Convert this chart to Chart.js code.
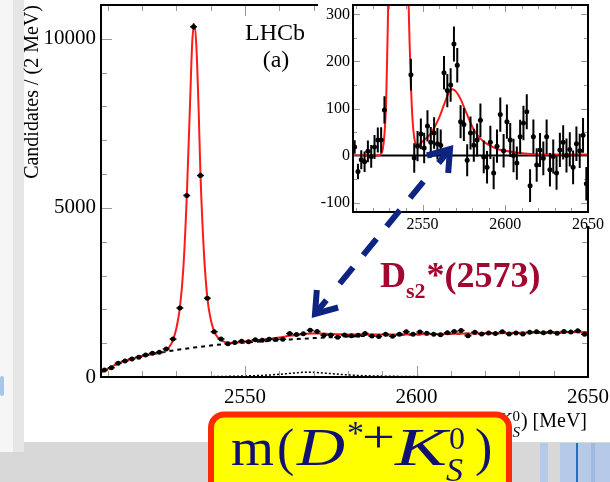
<!DOCTYPE html>
<html>
<head>
<meta charset="utf-8">
<script src="https://cdn.jsdelivr.net/npm/chart.js@4.4.1/dist/chart.umd.min.js"></script>
<style>
  body { margin: 0; width: 610px; height: 482px; overflow: hidden; position: relative; background: #d8d8d8; }
  #strip1 { position: absolute; left: 0; top: 0; width: 13px; height: 452px; background: #f6f6f6; }
  #strip2 { position: absolute; left: 13px; top: 0; width: 11px; height: 452px; background: #e6e6e6; }
  #blob { position: absolute; left: 0; top: 376px; width: 4px; height: 20px; background: #a9c6ea; border-radius: 2px; }
  #panel { position: absolute; left: 24px; top: 0; width: 586px; height: 442px; background: #fff; }
  .bar { position: absolute; top: 443px; height: 39px; }
  #main { position: absolute; left: 0; top: 0; }
  #insetBg { position: absolute; left: 318px; top: 0; width: 292px; height: 226px; background: #fff; }
  #inset { position: absolute; left: 318px; top: 0; }
  #notes { position: absolute; left: 0; top: 0; }
</style>
</head>
<body>
<div id="strip1"></div><div id="strip2"></div><div id="blob"></div>
<div id="panel"></div>
<div class="bar" style="left:540px;width:8px;background:#b6c9e8"></div>
<div class="bar" style="left:560px;width:16px;background:#b6c9e8"></div>
<div class="bar" style="left:576px;width:2px;background:#1d6fc8"></div>
<div class="bar" style="left:578px;width:13px;background:#b6c9e8"></div>
<div class="bar" style="left:591px;width:4px;background:#9fb9e0"></div>
<div class="bar" style="left:595px;width:15px;background:#b6c9e8"></div>
<canvas id="main" width="610" height="482"></canvas>
<div id="insetBg"></div>
<canvas id="inset" width="292" height="232"></canvas>

<svg id="notes" width="610" height="482">
  <g stroke="#0d2580" stroke-width="6" fill="none">
    <line x1="423.4" y1="181.6" x2="339" y2="284.6" stroke-dasharray="21 16"/>
    <line x1="450" y1="149" x2="438.6" y2="163"/>
    <polyline points="426.9,155.5 450,149 448.2,172.9" stroke-linejoin="miter"/>
    <line x1="326.4" y1="300.1" x2="315" y2="314"/>
    <polyline points="338.1,307.5 315,314 316.8,290.1" stroke-linejoin="miter"/>
  </g>
  <text x="380" y="287" font-family="Liberation Serif" font-weight="bold" font-size="36" fill="#a3062e">D<tspan font-size="22" dy="11">s2</tspan><tspan font-size="36" dy="-11" dx="1">*(2573)</tspan></text>

  <rect x="211" y="414.5" width="298" height="90" rx="13" fill="#ffff00" stroke="#ff2a00" stroke-width="6"/>
  <g font-family="Liberation Serif" fill="#111173">
    <text x="231" y="465" font-size="52" textLength="43" lengthAdjust="spacingAndGlyphs">m</text>
    <text x="277" y="465" font-size="52">(</text>
    <text x="297" y="465" font-size="52" font-style="italic" textLength="48" lengthAdjust="spacingAndGlyphs">D</text>
    <text x="347" y="444" font-size="34">*</text>
    <text x="362" y="452" font-size="44" textLength="33" lengthAdjust="spacingAndGlyphs">+</text>
    <text x="395" y="465" font-size="52" font-style="italic" textLength="52" lengthAdjust="spacingAndGlyphs">K</text>
    <text x="449" y="449" font-size="32">0</text>
    <text x="446" y="481" font-size="34" font-style="italic">S</text>
    <text x="475" y="465" font-size="52">)</text>
  </g>
</svg>

<script>
// bin centres, 2 MeV bins
const binCenters = [2509, 2511, 2513, 2515, 2517, 2519, 2521, 2523, 2525, 2527,
  2529, 2531, 2533, 2535, 2537, 2539, 2541, 2543, 2545, 2547,
  2549, 2551, 2553, 2555, 2557, 2559, 2561, 2563, 2565, 2567,
  2569, 2571, 2573, 2575, 2577, 2579, 2581, 2583, 2585, 2587,
  2589, 2591, 2593, 2595, 2597, 2599, 2601, 2603, 2605, 2607,
  2609, 2611, 2613, 2615, 2617, 2619, 2621, 2623, 2625, 2627,
  2629, 2631, 2633, 2635, 2637, 2639, 2641, 2643, 2645, 2647, 2649];

// candidates per bin (main plot)
const mainCounts = [208, 277, 405, 475, 534, 584, 653, 702, 732, 831,
  1125, 2040, 5370, 10360, 5960, 2330, 1335, 1127, 980, 1019,
  1059, 1043, 1104, 1083, 1117, 1108, 1118, 1284, 1258, 1282,
  1381, 1347, 1237, 1241, 1173, 1239, 1220, 1238, 1287, 1216,
  1201, 1261, 1203, 1263, 1335, 1263, 1328, 1293, 1264, 1252,
  1312, 1345, 1373, 1219, 1326, 1269, 1304, 1289, 1338, 1271,
  1302, 1269, 1320, 1338, 1312, 1327, 1291, 1343, 1330, 1365, 1264];

// background-subtracted candidates (inset), off-scale bins left out
const insetResid = [18, -34, -9, -13, 9, -2, 18, 33, 33, 97,
  null, null, null, null, null, null, null, 172, -5, 20,
  46, 16, 63, 28, 48, 25, 22, 176, 138, 150,
  237, 192, 72, 66, -10, 48, 22, 33, 75, -3,
  -25, 28, -37, 20, 87, 10, 72, 33, 0, -16,
  40, 69, 93, -64, 40, -20, 12, -6, 40, -30,
  -2, -37, 12, 28, 0, 13, -25, 25, 10, 43, -60];

// fit curves: [mass, candidates]
const totalFit = [[2508,150],[2509,190],[2511,300],[2513,400],[2515,480],[2517,540],[2519,595],[2521,640],
  [2523,681],[2525,720],[2526,745],[2527,800],[2528,900],[2529,1100],[2530,1450],[2531,2050],[2532,3200],
  [2533,5300],[2534,8200],[2534.6,9900],[2535.2,10400],[2535.8,9800],[2536.5,7800],[2537,6000],[2538,3700],
  [2539,2350],[2540,1700],[2541,1350],[2542,1180],[2543,1090],[2544,1040],[2545,1012],[2546,1008],[2548,1020],
  [2550,1050],[2555,1102],[2560,1170],[2563,1218],[2566,1257],[2568,1278],[2570,1287],[2572,1285],[2575,1270],
  [2578,1262],[2580,1257],[2585,1255],[2590,1256],[2595,1259],[2600,1265],[2610,1281],[2620,1294],[2630,1307],
  [2640,1317],[2650,1327]];

const bkgFit = [[2508,150],[2509,190],[2511,300],[2513,400],[2515,480],[2517,540],[2519,595],[2521,640],
  [2523,680],[2525,715],[2527,750],[2530,800],[2535,870],[2540,930],[2545,985],[2550,1020],[2555,1055],
  [2560,1090],[2565,1120],[2570,1150],[2575,1175],[2580,1195],[2590,1230],[2600,1255],[2610,1275],
  [2620,1290],[2630,1305],[2640,1315],[2650,1325]];

const ds2Fit = [[2508,0],[2530,4],[2540,10],[2546,20],[2550,30],[2555,48],[2560,80],[2564,115],[2568,141],
  [2571,132],[2575,100],[2580,62],[2585,38],[2590,26],[2600,12],[2620,5],[2650,2]];

const insetFit = [[2508,0],[2522,0],[2524,1],[2525,4],[2526,14],[2527,45],[2528,110],[2528.7,220],[2529.3,340],
  [2530,650],[2532,2000],[2535.2,9500],[2538,2000],[2540,700],[2541,420],[2541.6,320],[2542.2,240],[2543,150],
  [2544,75],[2545,38],[2546,24],[2547,22],[2550,30],[2555,47],[2560,80],[2563,108],[2566,134],[2568,141],
  [2570,137],[2573,120],[2576,95],[2578,78],[2580,62],[2582,49],[2585,36],[2588,27],[2592,19],[2596,13],
  [2600,10],[2607,6],[2617,3],[2630,2],[2650,2]];

const mainXTicks = [2550, 2600, 2650];
const mainYTicks = [0, 5000, 10000];
const insetXTicks = [2550, 2600, 2650];
const insetYTicks = [-100, 0, 100, 200, 300];

const FONT = 'Liberation Serif';
Chart.defaults.font.family = FONT;
Chart.defaults.color = '#000';

const mainErr = mainCounts.map(v => Math.sqrt(v));
const toPoints = vals => binCenters.map((x, i) => ({ x: x, y: vals[i] }));
const toXY = arr => arr.map(p => ({ x: p[0], y: p[1] }));

// vertical stat. errors + half-bin horizontal bars on the first dataset
const errorBars = {
  id: 'errorBars',
  afterDatasetsDraw(chart) {
    const ds = chart.data.datasets[0];
    const { ctx, chartArea: a, scales: { x, y } } = chart;
    ctx.save();
    ctx.beginPath();
    ctx.rect(a.left, a.top, a.right - a.left, a.bottom - a.top);
    ctx.clip();
    ctx.strokeStyle = '#000';
    ctx.lineWidth = ds.barWidth;
    ds.data.forEach((p, i) => {
      if (p.y == null) return;
      const px = x.getPixelForValue(p.x);
      const py = y.getPixelForValue(p.y);
      const e = ds.errY[i];
      ctx.beginPath();
      ctx.moveTo(px, y.getPixelForValue(p.y - e));
      ctx.lineTo(px, y.getPixelForValue(p.y + e));
      ctx.moveTo(x.getPixelForValue(p.x - 1), py);
      ctx.lineTo(x.getPixelForValue(p.x + 1), py);
      ctx.stroke();
    });
    ctx.restore();
  }
};

// ROOT-like frame with inward ticks
const frame = {
  id: 'frame',
  beforeDatasetsDraw(chart, args, o) {
    if (!o.zeroLine) return;
    const { ctx, chartArea: a, scales: { y } } = chart;
    const py = y.getPixelForValue(0);
    ctx.save();
    ctx.strokeStyle = '#000';
    ctx.lineWidth = 2;
    ctx.beginPath();
    ctx.moveTo(a.left, py);
    ctx.lineTo(a.right, py);
    ctx.stroke();
    ctx.restore();
  },
  afterDatasetsDraw(chart, args, o) {
    const { ctx, chartArea: a, scales: { x, y } } = chart;
    ctx.save();
    ctx.strokeStyle = '#999';
    ctx.lineWidth = 1;
    ctx.beginPath();
    for (let v = Math.ceil(x.min / o.xMinor) * o.xMinor; v <= x.max; v += o.xMinor) {
      const len = v % o.xMajor === 0 ? o.major : o.minor;
      const px = Math.round(x.getPixelForValue(v)) + 0.5;
      ctx.moveTo(px, a.bottom); ctx.lineTo(px, a.bottom - len);
      ctx.moveTo(px, a.top); ctx.lineTo(px, a.top + len);
    }
    for (let v = Math.ceil(y.min / o.yMinor) * o.yMinor; v <= y.max; v += o.yMinor) {
      const len = Math.abs(v % o.yMajor) < 1e-6 ? o.major : o.minor;
      const py = Math.round(y.getPixelForValue(v)) + 0.5;
      ctx.moveTo(a.left, py); ctx.lineTo(a.left + len, py);
      ctx.moveTo(a.right, py); ctx.lineTo(a.right - len, py);
    }
    ctx.stroke();
    ctx.strokeStyle = '#000';
    ctx.lineWidth = 2;
    ctx.strokeRect(a.left, a.top, a.right - a.left, a.bottom - a.top);
    ctx.restore();
  }
};

const mainText = {
  id: 'mainText',
  afterDraw(chart) {
    const ctx = chart.ctx;
    ctx.save();
    ctx.fillStyle = '#000';
    ctx.textAlign = 'center';
    ctx.font = '24px "' + FONT + '"';
    ctx.fillText('LHCb', 275, 40);
    ctx.fillText('(a)', 276, 67);

    ctx.save();
    ctx.translate(38, 5);
    ctx.rotate(-Math.PI / 2);
    ctx.textAlign = 'right';
    ctx.font = '20px "' + FONT + '"';
    ctx.fillText('Candidates / (2 MeV)', 0, 0);
    ctx.restore();

    // x title, laid out from the right end (left part sits under the yellow box)
    const base = 427;
    ctx.textAlign = 'left';
    ctx.font = '20px "' + FONT + '"';
    let x = 587 - ctx.measureText(') [MeV]').width;
    ctx.fillText(') [MeV]', x, base);
    ctx.font = '15px "' + FONT + '"';
    x -= ctx.measureText('0').width + 1;
    ctx.fillText('0', x, base - 6);
    ctx.font = 'italic 15px "' + FONT + '"';
    ctx.fillText('S', x, base + 10);
    ctx.font = 'italic 20px "' + FONT + '"';
    x -= ctx.measureText('K').width + 1;
    ctx.fillText('K', x, base);
    ctx.font = '15px "' + FONT + '"';
    x -= ctx.measureText('*+').width + 3;
    ctx.fillText('*+', x, base - 3);
    ctx.font = 'italic 20px "' + FONT + '"';
    x -= ctx.measureText('D').width;
    ctx.fillText('D', x, base);
    ctx.font = '20px "' + FONT + '"';
    x -= ctx.measureText('m(').width;
    ctx.fillText('m(', x, base);
    ctx.restore();
  }
};

function axisX(min, max, ticks, height, size, pad) {
  return {
    type: 'linear', min: min, max: max,
    afterBuildTicks: s => { s.ticks = ticks.map(v => ({ value: v })); },
    afterFit: s => { s.height = height; s.paddingLeft = 0; s.paddingRight = 0; },
    grid: { display: false, drawTicks: false },
    border: { display: false },
    ticks: { padding: pad, autoSkip: false, maxRotation: 0, font: { size: size }, callback: v => String(v) }
  };
}
function axisY(min, max, ticks, width, size, pad) {
  return {
    type: 'linear', min: min, max: max,
    afterBuildTicks: s => { s.ticks = ticks.map(v => ({ value: v })); },
    afterFit: s => { s.width = width; s.paddingTop = 0; s.paddingBottom = 0; },
    grid: { display: false, drawTicks: false },
    border: { display: false },
    ticks: { padding: pad, autoSkip: false, font: { size: size }, callback: v => String(v) }
  };
}

new Chart(document.getElementById('main'), {
  type: 'scatter',
  data: {
    datasets: [
      { data: toPoints(mainCounts), errY: mainErr, barWidth: 1.5,
        pointRadius: 2.5, pointBackgroundColor: '#000', pointBorderWidth: 0 },
      { data: toXY(totalFit), showLine: true, pointRadius: 0, borderColor: '#ff1a1a', borderWidth: 2,
        cubicInterpolationMode: 'monotone' },
      { data: toXY(bkgFit), showLine: true, pointRadius: 0, borderColor: '#000', borderWidth: 2,
        borderDash: [4, 4], cubicInterpolationMode: 'monotone' },
      { data: toXY(ds2Fit), showLine: true, pointRadius: 0, borderColor: '#000', borderWidth: 1.5,
        borderDash: [2, 2], cubicInterpolationMode: 'monotone' }
    ]
  },
  options: {
    responsive: false, animation: false, devicePixelRatio: 1,
    layout: { padding: { top: 5, right: 22, left: 0, bottom: 0 } },
    plugins: {
      legend: { display: false }, tooltip: { enabled: false },
      frame: { xMinor: 10, xMajor: 50, yMinor: 1000, yMajor: 5000, major: 11, minor: 6 }
    },
    scales: {
      x: axisX(2508, 2650, mainXTicks, 105, 21, 8),
      y: axisY(0, 11000, mainYTicks, 101, 21, 5)
    }
  },
  plugins: [frame, errorBars, mainText]
});

new Chart(document.getElementById('inset'), {
  type: 'scatter',
  data: {
    datasets: [
      { data: toPoints(insetResid), errY: mainErr, barWidth: 2,
        pointRadius: 2.5, pointBackgroundColor: '#000', pointBorderWidth: 0 },
      { data: toXY(insetFit), showLine: true, pointRadius: 0, borderColor: '#ff1a1a', borderWidth: 2,
        cubicInterpolationMode: 'monotone' }
    ]
  },
  options: {
    responsive: false, animation: false, devicePixelRatio: 1,
    layout: { padding: { top: 5, right: 22, left: 0, bottom: 0 } },
    plugins: {
      legend: { display: false }, tooltip: { enabled: false },
      frame: { xMinor: 10, xMajor: 50, yMinor: 50, yMajor: 100, major: 7, minor: 4, zeroLine: true }
    },
    scales: {
      x: axisX(2508, 2650, insetXTicks, 20, 16, 3),
      y: axisY(-120, 320, insetYTicks, 35, 16, 3)
    }
  },
  plugins: [frame, errorBars]
});
</script>
</body>
</html>
